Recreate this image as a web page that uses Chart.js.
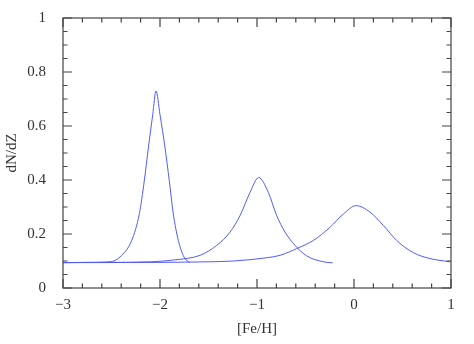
<!DOCTYPE html>
<html>
<head>
<meta charset="utf-8">
<script src="https://cdn.jsdelivr.net/npm/chart.js@4/dist/chart.umd.min.js"></script>
<style>
  html, body { margin: 0; padding: 0; background: #fff; }
  #wrap { width: 474px; height: 344px; }
</style>
</head>
<body>
<div id="wrap"><canvas id="myChart" width="474" height="344"></canvas></div>
<script>
// [Fe/H] and dN/dZ, one pair of arrays per curve
var feh1  = [-3, -2.75, -2.515, -2.412, -2.292, -2.213, -2.162, -2.12, -2.075, -2.041, -2.0, -1.948, -1.904, -1.863, -1.811, -1.753, -1.691];
var dndz1 = [0.094, 0.095, 0.097, 0.115, 0.176, 0.275, 0.397, 0.519, 0.642, 0.730, 0.642, 0.519, 0.397, 0.275, 0.176, 0.115, 0.093];

var feh2  = [-3, -2.5, -2.1, -1.85, -1.588, -1.415, -1.278, -1.175, -1.072, -0.983, -0.883, -0.797, -0.711, -0.608, -0.488, -0.316, -0.22];
var dndz2 = [0.094, 0.095, 0.097, 0.104, 0.121, 0.158, 0.207, 0.268, 0.354, 0.409, 0.354, 0.268, 0.207, 0.158, 0.119, 0.097, 0.093];

var feh3  = [-3, -2, -1.5, -1.244, -0.9, -0.763, -0.59, -0.42, -0.247, -0.11, 0.021, 0.165, 0.302, 0.44, 0.611, 0.784, 0.99];
var dndz3 = [0.094, 0.095, 0.097, 0.100, 0.112, 0.121, 0.146, 0.176, 0.225, 0.274, 0.305, 0.281, 0.232, 0.176, 0.131, 0.109, 0.097];

var xTicks = [-3, -2, -1, 0, 1];
var yTicks = [0, 0.2, 0.4, 0.6, 0.8, 1];

var toPoints = function(xs, ys){
    var pts = [];
    for (var i = 0; i < xs.length; i++) pts.push({x: xs[i], y: ys[i]});
    return pts;
};

var lineColor = 'rgb(80, 90, 255)';
var frameColor = '#444';
var fontFam = '"Liberation Serif", serif';

// frame with inward ticks on all four sides, major + minor
var framePlugin = {
    id: 'frame',
    afterDraw: function(chart){
        var ctx = chart.ctx, xs = chart.scales.x, ys = chart.scales.y;
        var a = chart.chartArea;
        ctx.save();
        ctx.strokeStyle = frameColor;
        ctx.lineWidth = 1.2;
        ctx.strokeRect(a.left, a.top, a.right - a.left, a.bottom - a.top);
        ctx.beginPath();
        var v, p, len;
        for (var k = 0; k <= 20; k++) {
            v = -3 + k * 0.2;
            p = xs.getPixelForValue(v);
            len = (k % 5 === 0) ? 9 : 4.5;
            ctx.moveTo(p, a.bottom); ctx.lineTo(p, a.bottom - len);
            ctx.moveTo(p, a.top); ctx.lineTo(p, a.top + len);
        }
        for (var j = 0; j <= 20; j++) {
            v = j * 0.05;
            p = ys.getPixelForValue(v);
            len = (j % 4 === 0) ? 9 : 4.5;
            ctx.moveTo(a.left, p); ctx.lineTo(a.left + len, p);
            ctx.moveTo(a.right, p); ctx.lineTo(a.right - len, p);
        }
        ctx.stroke();
        ctx.restore();
    }
};

var mkSet = function(xs, ys){
    return {
        data: toPoints(xs, ys),
        borderColor: lineColor,
        borderWidth: 1,
        pointRadius: 0,
        fill: false,
        cubicInterpolationMode: 'monotone'
    };
};

var ctx1 = document.getElementById('myChart');
var mChart = new Chart(ctx1, {
    type: 'line',
    data: {
        datasets: [mkSet(feh1, dndz1), mkSet(feh2, dndz2), mkSet(feh3, dndz3)]
    },
    options: {
        responsive: false,
        animation: false,
        events: [],
        layout: { padding: { top: 16, right: 23, left: 3, bottom: 0 } },
        plugins: { legend: { display: false }, tooltip: { enabled: false } },
        scales: {
            x: {
                type: 'linear',
                min: -3, max: 1,
                grid: { display: false },
                border: { display: false },
                afterBuildTicks: function(s){ s.ticks = xTicks.map(function(v){ return {value: v}; }); },
                afterFit: function(s){ s.height = 56; },
                ticks: {
                    padding: 0,
                    color: '#333',
                    font: { family: fontFam, size: 15 },
                    callback: function(v){ return String(v).replace('-', '\u2212'); }
                },
                title: {
                    display: true,
                    text: '[Fe/H]',
                    color: '#333',
                    font: { family: fontFam, size: 15 },
                    padding: { top: 0, bottom: 6 }
                }
            },
            y: {
                type: 'linear',
                min: 0, max: 1,
                grid: { display: false },
                border: { display: false },
                afterBuildTicks: function(s){ s.ticks = yTicks.map(function(v){ return {value: v}; }); },
                afterFit: function(s){ s.width = 60; },
                ticks: {
                    padding: 9,
                    color: '#333',
                    font: { family: fontFam, size: 15 },
                    callback: function(v){ return String(v); }
                },
                title: {
                    display: true,
                    text: 'dN/dZ',
                    color: '#333',
                    font: { family: fontFam, size: 15 },
                    padding: { top: 0, bottom: 0 }
                }
            }
        }
    },
    plugins: [framePlugin]
});
</script>
</body>
</html>
